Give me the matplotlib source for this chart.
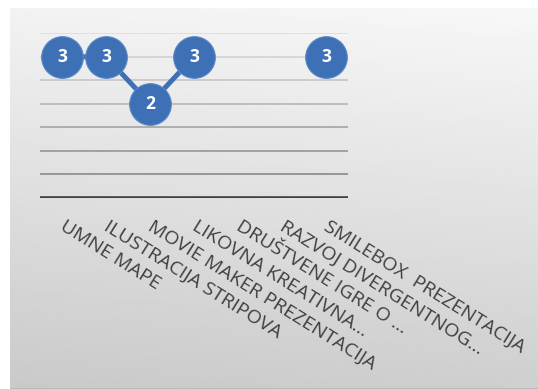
import numpy as np
import matplotlib
matplotlib.use("Agg")
import matplotlib.pyplot as plt

categories = ["UMNE MAPE", "ILUSTRACIJA STRIPOVA", "MOVIE MAKER PREZENTACIJA",
              "LIKOVNA KREATIVNA...", "DRUŠTVENE IGRE O ...",
              "RAZVOJ DIVERGENTNOG...", "SMILEBOX  PREZENTACIJA"]
values = [3, 3, 2, 3, np.nan, np.nan, 3]
y_ticks = [0, 0.5, 1, 1.5, 2, 2.5, 3, 3.5]

BLUE = "#3d70b5"

fig = plt.figure(figsize=(5.38, 3.89), dpi=100)

# gradient background panel
bg = fig.add_axes([10 / 538, 0, 1 - 10 / 538, 381 / 389], zorder=0)
yy, xx = np.mgrid[0:1:200j, 0:1:200j]
shade = 0.95 - 0.16 * yy + 0.02 * xx
bg.imshow(shade, cmap="gray", vmin=0, vmax=1, aspect="auto",
          extent=[0, 1, 1, 0], interpolation="bilinear")
bg.axhline(1, color="#b8b8b8", lw=2)
bg.set_xlim(0, 1)
bg.set_ylim(1, 0)
bg.axis("off")

ax = fig.add_axes([40 / 538, 1 - 197.7 / 389, 308 / 538, 164.4 / 389], zorder=1)
ax.patch.set_alpha(0)

x = np.arange(len(categories))
grid_cols = ["#404040", "#8a8a8a", "#969696", "#a4a4a4", "#b6b6b6",
             "#c6c6c6", "#d2d2d2", "#dcdcdc"]
for yv, c in zip(y_ticks, grid_cols):
    if yv == 0:
        ax.axhline(yv, color=c, lw=2.6, zorder=1)
    else:
        ax.axhline(yv, color=c, lw=1.2, zorder=1)

ax.plot(x, values, color=BLUE, lw=3.6, marker="o", markersize=30,
        markerfacecolor=BLUE, markeredgecolor="#5a88c8", markeredgewidth=0.8,
        clip_on=False, zorder=3)
for xi, v in zip(x, values):
    if not np.isnan(v):
        ax.text(xi, v, f"{v:g}", color="white", fontsize=12.5, fontweight="bold",
                ha="center", va="center", zorder=4, family="Open Sans")

ax.set_xlim(-0.5, len(categories) - 0.5)
ax.set_ylim(0, 3.5)
ax.set_yticks([])
ax.set_xticks([])
for s in ax.spines.values():
    s.set_visible(False)

for xi, lab in zip(x, categories):
    ax.annotate(lab, xy=(xi, 0), xytext=(3, -14), textcoords="offset points",
                rotation=-32, rotation_mode="anchor", ha="left", va="top",
                fontsize=14, color="#404040", family="Open Sans")

fig.savefig("out.png", dpi=100)
